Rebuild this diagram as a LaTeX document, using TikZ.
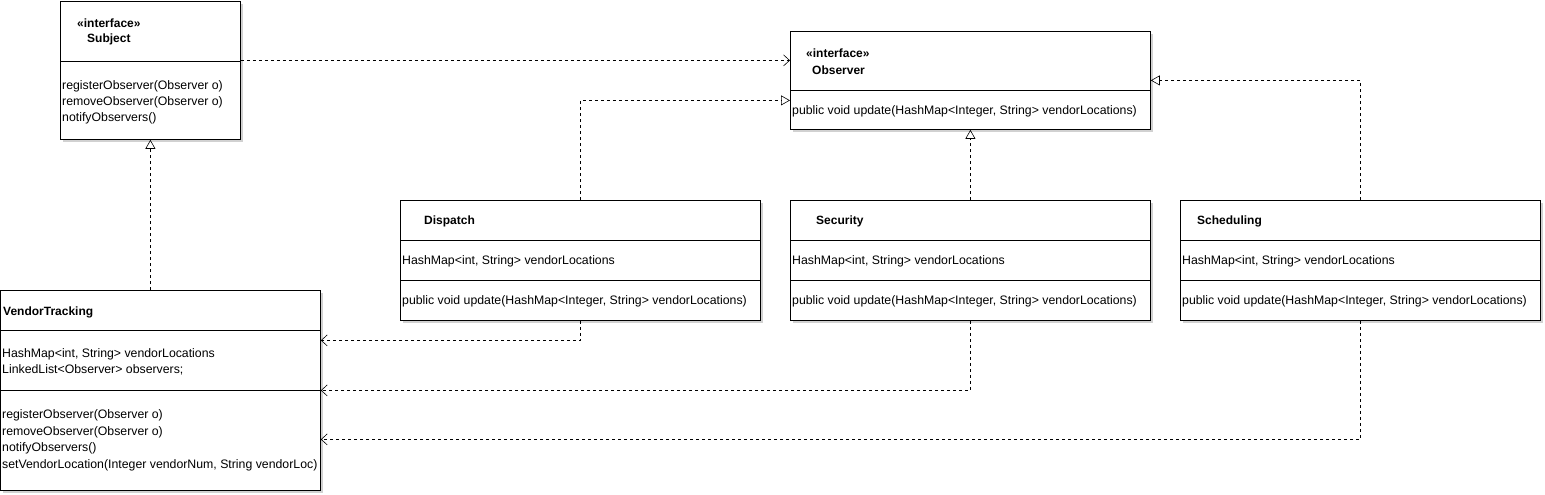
\documentclass[tikz,border=0pt]{standalone}
\usepackage{fontspec}
\setmainfont{Liberation Sans}
\usetikzlibrary{arrows.meta,shadows}

\tikzset{
  classbox/.style={draw, fill=white, line width=0.8pt, anchor=north west,
    inner sep=0pt,
    drop shadow={shadow xshift=3pt, shadow yshift=-3pt, fill=black!18, opacity=1}},
  member/.style={anchor=west, inner sep=0pt, font=\fontsize{12.3}{14}\selectfont},
  title/.style={member, font=\fontsize{12}{14}\selectfont\bfseries},
  dep/.style={dash pattern=on 3pt off 3pt, line width=0.6pt},
  realize/.style={dep, -{Triangle[open, length=9pt, width=10pt]}},
  uses/.style={dep, -{Straight Barb[length=6pt, width=11pt]}},
}

\begin{document}
\begin{tikzpicture}[x=1pt, y=-1pt]
  \useasboundingbox (0,0) rectangle (1545,495);

  % class boxes
  \node[classbox, minimum width=180pt, minimum height=138pt] (subj) at (60,1) {};
  \node[classbox, minimum width=360pt, minimum height=98pt] (obs) at (790,31) {};
  \node[classbox, minimum width=320pt, minimum height=200pt] (vt) at (0,290) {};
  \node[classbox, minimum width=360pt, minimum height=120pt] (disp) at (400,200) {};
  \node[classbox, minimum width=360pt, minimum height=120pt] (sec) at (790,200) {};
  \node[classbox, minimum width=360pt, minimum height=120pt] (sched) at (1180,200) {};

  % compartments
  \draw[line width=0.8pt] ([yshift=-60pt]subj.north west) -- ([yshift=-60pt]subj.north east);
  \draw[line width=0.8pt] ([yshift=-59pt]obs.north west) -- ([yshift=-59pt]obs.north east);
  \draw[line width=0.8pt] ([yshift=-40pt]vt.north west) -- ([yshift=-40pt]vt.north east);
  \draw[line width=0.8pt] ([yshift=-100pt]vt.north west) -- ([yshift=-100pt]vt.north east);
  \foreach \c in {disp,sec,sched}{
    \draw[line width=0.8pt] ([yshift=-40pt]\c.north west) -- ([yshift=-40pt]\c.north east);
    \draw[line width=0.8pt] ([yshift=-80pt]\c.north west) -- ([yshift=-80pt]\c.north east);
  }

  % Subject
  \node[title] (subjst) at (77,23) {«interface»};
  \node[title] (subjname) at (87,39) {Subject};
  \node[member] (subjm1) at (62,86.5) {registerObserver(Observer o)};
  \node[member] (subjm2) at (62,102.5) {removeObserver(Observer o)};
  \node[member] (subjm3) at (62,118.5) {notifyObservers()};

  % Observer
  \node[title] (obsst) at (806,53) {«interface»};
  \node[title] (obsname) at (812,70) {Observer};
  \node[member] (obsm1) at (792,111.5) {public void update(HashMap<Integer, String> vendorLocations)};

  % VendorTracking
  \node[title] (vtname) at (3,312) {VendorTracking};
  \node[member] (vta1) at (2,354.5) {HashMap<int, String> vendorLocations};
  \node[member] (vta2) at (2,369.5) {LinkedList<Observer> observers;};
  \node[member] (vtm1) at (2,415.5) {registerObserver(Observer o)};
  \node[member] (vtm2) at (2,432) {removeObserver(Observer o)};
  \node[member] (vtm3) at (2,448.5) {notifyObservers()};
  \node[member] (vtm4) at (2,465) {setVendorLocation(Integer vendorNum, String vendorLoc)};

  % observers
  \node[title] (dispname) at (424,221) {Dispatch};
  \node[title] (secname) at (816,221) {Security};
  \node[title] (schedname) at (1197,221) {Scheduling};
  \foreach \c/\x in {disp/402,sec/792,sched/1182}{
    \node[member] (\c a) at (\x,261.5) {HashMap<int, String> vendorLocations};
    \node[member] (\c m) at (\x,301.5) {public void update(HashMap<Integer, String> vendorLocations)};
  }

  % connectors
  \draw[uses] ([yshift=10pt]subj.east) -- ([yshift=20pt]obs.west);
  \draw[realize] (vt.north -| subj.south) -- (subj.south);
  \draw[realize] (disp.north) |- ([yshift=-20pt]obs.west);
  \draw[realize] (sec.north) -- (obs.south);
  \draw[realize] (sched.north) |- (obs.east);
  \draw[uses] (disp.south) |- ([yshift=50pt]vt.east);
  \draw[uses] (sec.south) |- (vt.east);
  \draw[uses] (sched.south) |- ([yshift=-49pt]vt.east);
\end{tikzpicture}
\end{document}
